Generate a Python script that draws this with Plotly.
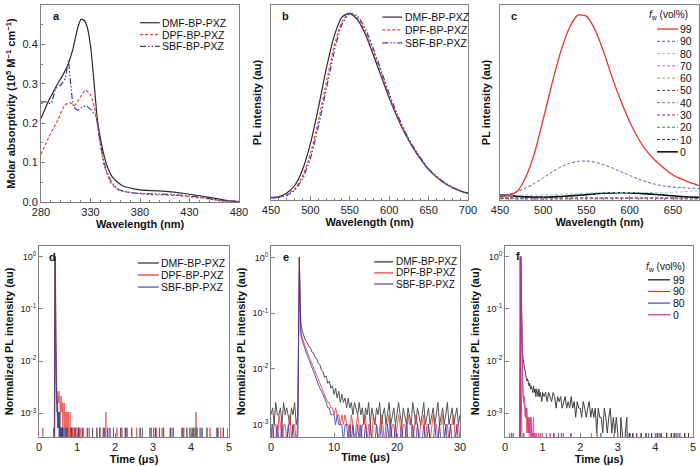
import numpy as np
import plotly.graph_objects as go

FONT = "Arial, Liberation Sans, sans-serif"

# ---------------- (a) absorption spectra ----------------
a_dmf_wl = [280, 288, 295, 302, 307, 312, 317, 320.5, 324, 327, 330.5, 334, 337, 341, 346, 352, 362, 380, 400, 427, 447, 467, 480]
a_dmf = [0.212, 0.258, 0.292, 0.322, 0.347, 0.386, 0.441, 0.464, 0.46, 0.441, 0.386, 0.292, 0.208, 0.148, 0.097, 0.064, 0.042, 0.031, 0.028, 0.021, 0.013, 0.004, 0.001]
a_dpf_wl = [280, 288, 297, 304, 309, 314, 320, 325, 330, 335, 339, 344, 351, 359, 373, 390, 413, 440, 460, 480]
a_dpf = [0.121, 0.165, 0.208, 0.246, 0.252, 0.246, 0.267, 0.284, 0.272, 0.228, 0.160, 0.092, 0.047, 0.030, 0.023, 0.019, 0.017, 0.011, 0.004, 0.001]
a_sbf_wl = [280, 285, 290, 295, 300, 304.5, 307.5, 310, 313, 317, 322, 326, 331, 336, 339, 344, 351, 359, 373, 390, 413, 440, 460, 480]
a_sbf = [0.254, 0.254, 0.25, 0.288, 0.297, 0.314, 0.358, 0.30, 0.242, 0.233, 0.242, 0.243, 0.233, 0.212, 0.165, 0.097, 0.051, 0.031, 0.023, 0.021, 0.019, 0.013, 0.004, 0.001]

# ---------------- (b) PL spectra ----------------
b_wl = list(range(450, 701, 10))
b_dmf = [0.011, 0.016, 0.035, 0.075, 0.16, 0.30, 0.49, 0.70, 0.875, 0.98, 1.0, 0.965, 0.885, 0.775, 0.66, 0.545, 0.445, 0.355, 0.28, 0.215, 0.16, 0.12, 0.088, 0.064, 0.046, 0.032]
b_dpf = [0.009, 0.012, 0.026, 0.057, 0.125, 0.245, 0.42, 0.625, 0.82, 0.955, 1.0, 0.975, 0.90, 0.795, 0.675, 0.555, 0.45, 0.36, 0.282, 0.218, 0.163, 0.122, 0.09, 0.065, 0.047, 0.033]
b_sbf = [0.008, 0.011, 0.022, 0.05, 0.11, 0.22, 0.39, 0.59, 0.79, 0.94, 1.0, 0.985, 0.915, 0.81, 0.69, 0.57, 0.46, 0.367, 0.287, 0.222, 0.166, 0.124, 0.091, 0.066, 0.048, 0.034]

# ---------------- (c) PL vs water fraction ----------------
c_wl = list(range(450, 681, 10))
c_99 = [0.013, 0.018, 0.042, 0.12, 0.25, 0.43, 0.62, 0.79, 0.92, 0.99, 0.985, 0.91, 0.79, 0.65, 0.525, 0.415, 0.325, 0.255, 0.205, 0.165, 0.13, 0.107, 0.088, 0.072]
c_90 = [0.02, 0.027, 0.04, 0.06, 0.085, 0.115, 0.145, 0.172, 0.192, 0.203, 0.205, 0.198, 0.185, 0.167, 0.147, 0.127, 0.108, 0.092, 0.079, 0.07, 0.064, 0.061, 0.059, 0.058]
c_80 = [0.02, 0.02, 0.02, 0.021, 0.022, 0.022, 0.024, 0.026, 0.028, 0.03, 0.032, 0.033, 0.034, 0.035, 0.035, 0.036, 0.036, 0.036, 0.036, 0.036, 0.037, 0.039, 0.042, 0.045]
c_0 = [0.022, 0.02, 0.015, 0.012, 0.011, 0.011, 0.012, 0.014, 0.017, 0.02, 0.024, 0.028, 0.031, 0.033, 0.034, 0.033, 0.031, 0.028, 0.025, 0.021, 0.017, 0.014, 0.011, 0.009]
c_wl_low = [450, 500, 550, 600, 650, 680]
c_70 = [0.005, 0.004, 0.005, 0.006, 0.005, 0.004]
c_60 = [0.008, 0.006, 0.007, 0.008, 0.007, 0.006]
c_50 = [0.004, 0.003, 0.004, 0.005, 0.004, 0.003]
c_40 = [0.003, 0.002, 0.003, 0.004, 0.003, 0.002]
c_30 = [0.006, 0.005, 0.006, 0.007, 0.006, 0.005]
c_20 = [0.007, 0.005, 0.006, 0.007, 0.006, 0.005]
c_10 = [0.002, 0.001, 0.002, 0.003, 0.002, 0.001]

# ---------------- (d) transient PL, toluene (counts, 0.01 us bins) ----------------
d_peak = 1900
d_dmf_start, d_dpf_start, d_sbf_start = 0.40, 0.40, 0.40
d_dmf = [0, 45, 1900, 260, 18, 5, 3, 4, 2, 3, 1, 2, 2, 1, 0, 2, 1, 0, 1, 1, 0, 1, 0]
d_dpf = [0, 20, 700, 1900, 250, 12, 6, 5, 4, 5, 3, 4, 3, 5, 3, 4, 2, 3, 2, 4, 2, 3, 1, 3, 2, 2, 1, 3, 1, 2,
         2, 0, 1, 2, 1, 2, 0, 2, 1, 1, 0, 1, 2, 0, 1, 0, 1, 1, 0, 1, 0, 0, 1, 0, 1, 0, 0, 1, 0, 0, 1, 0]
d_sbf = [0, 0, 80, 1900, 70, 6, 3, 2, 2, 1, 2, 1, 1, 2, 1, 0, 1, 1, 0, 1, 0, 1, 0, 0, 1, 0]
d_dmf_events = [0.39, 0.68, 0.75, 0.83, 0.95, 1.05, 1.15, 1.27, 1.41, 1.52, 1.60, 1.72, 1.81, 1.96, 2.15, 2.29, 2.44,
                2.66, 2.95, 3.07, 3.17, 3.28, 3.53, 3.77, 3.89, 3.97, 4.03, 4.07, 4.11, 4.16, 4.29, 4.42, 4.71, 4.85]
d_dpf_events = [0.10, 1.05, 1.10, 1.16, 1.32, 1.60, 1.96, 2.05, 2.18, 2.33, 2.57, 2.91, 3.09, 3.24, 3.45, 3.76, 4.50, 4.78, 4.96]
d_dpf_double = [1.76, 4.13]
d_sbf_events = [0.72, 0.86, 1.04, 1.69, 1.87, 2.27, 2.72, 3.02, 3.47, 3.81, 4.24, 4.68]

# ---------------- (e) transient PL, film (counts, 0.25 us bins) ----------------
e_peak = 2000
e_dmf_pre = [3, 4, 2, 5, 3, 3, 4, 2, 5, 3, 4, 3, 2, 4, 3, 5, 2, 3]
e_dpf_pre = [2, 1, 2, 2, 1, 3, 2, 1, 2, 2, 1, 2, 3, 1, 2, 2, 1, 2]
e_sbf_pre = [1, 2, 1, 1, 2, 1, 1, 2, 1, 1, 1, 2, 1, 1, 2, 1, 1, 1]
e_dmf_top = [2000, 340]
e_dpf_top = [2000, 250]
e_sbf_top = [2000, 220]
e_dmf_post = [120, 92, 78, 64, 60, 50, 48, 40, 39, 32, 31, 25, 24, 19, 18, 14, 15, 11, 12, 9,
              10, 7, 9, 6, 8, 5, 7, 5, 6, 4, 6, 4, 5, 3, 5, 4, 3, 5, 3, 4, 2, 4, 3, 5, 2, 4, 3, 2, 4, 3,
              5, 2, 3, 4, 2, 3, 5, 2, 3, 4, 2, 3, 5, 3, 2, 4, 3, 2, 4, 3, 2, 5, 3, 2, 4, 3, 2, 3, 5, 2,
              3, 4, 2, 3, 4, 2, 3, 5, 2, 3, 4, 2, 3, 5, 2, 3, 4, 2, 3, 4, 2, 3]
e_dpf_post = [90, 70, 56, 48, 40, 34, 29, 25, 21, 18, 15, 13, 11, 9, 8, 7, 6, 5, 5, 4,
              4, 3, 4, 3, 3, 2, 3, 2, 3, 2, 2, 1, 3, 2, 1, 2, 3, 2, 1, 2, 2, 3, 1, 2, 2, 1, 3, 2, 2, 1,
              2, 3, 2, 1, 2, 2, 3, 1, 2, 2, 1, 2, 3, 2, 1, 2, 2, 1, 3, 2, 2, 1, 2, 3, 2, 1, 2, 2, 3, 1,
              2, 2, 1, 2, 3, 2, 2, 1, 2, 2, 3, 1, 2, 2, 1, 2, 2, 3, 1, 2, 2, 1]
e_sbf_post = [80, 62, 50, 42, 35, 30, 25, 21, 18, 15, 13, 11, 9, 8, 7, 6, 5, 4, 4, 3,
              3, 3, 2, 3, 2, 2, 2, 1, 2, 2, 1, 2, 1, 2, 1, 1, 2, 1, 2, 1, 1, 2, 1, 1, 2, 1, 1, 1, 2, 1,
              1, 2, 1, 1, 1, 2, 1, 2, 1, 1, 2, 1, 1, 1, 2, 1, 1, 2, 1, 1, 1, 2, 1, 1, 2, 1, 1, 1, 2, 1,
              1, 2, 1, 1, 1, 2, 1, 1, 2, 1, 1, 1, 2, 1, 1, 2, 1, 1, 1, 2, 1, 1]

# ---------------- (f) transient PL vs water fraction (counts) ----------------
f_peak = 2400
f_99_head = [0, 2400, 150, 40, 26, 21, 16, 14, 12, 10, 11, 9, 8, 9, 7, 8, 7, 6, 8, 6, 7, 5, 7, 6, 5, 7, 5, 6, 5, 4, 6]
f_99_tail = [5, 6, 4, 6, 5, 4, 6, 5, 3, 5, 4, 5, 3, 4, 5, 3, 4, 3, 5, 3, 4, 2, 4, 3, 3, 2, 4, 3, 2, 3,
             4, 2, 3, 2, 3, 1, 3, 2, 2, 1, 3, 2, 1, 2, 3, 1, 2, 1, 2, 1, 0, 2, 1, 0, 1, 2, 0, 1, 0, 1]
f_90_head = [0, 2400, 60, 10, 5, 4, 3, 2, 3, 1, 2, 1, 2, 0, 1, 2, 0, 1, 0, 1, 0]
f_80_head = [0, 2400, 20, 2, 1, 0, 1, 0]
f_0_head = [0, 2400, 200, 20, 6, 4, 5, 3, 2, 3, 2, 1, 2, 1, 2, 1, 0, 1, 2, 0, 1, 0, 1, 0, 0, 1, 0]
f_99_events = [3.50, 3.62, 3.75, 3.90, 4.05, 4.15, 4.30, 4.42, 4.50, 4.78, 4.88]
f_90_events = [0.95, 1.30, 1.75, 2.45]
f_80_events = [0.17, 0.22, 1.42, 1.50, 2.55, 3.30, 3.82, 4.00, 4.55, 4.65]
f_0_events = [0.12, 1.10, 1.20, 1.30, 1.55, 1.75, 2.30, 2.90, 3.50, 4.10, 4.60]

BLACK, RED, BLUE = "#2b2b2b", "#e8413a", "#3c3ca8"
DASH = "3px,2px"
DASHDOT = "6px,2px,1.5px,2px,1.5px,2px"


def decay(segments, n, events=(), doubles=(), t_end=None, hw=0.004):
    t, c = [], []
    if t_end is not None:
        t.append(0.0)
        c.append(0)
    for t0, dt, vals in segments:
        t += [t0 + dt * i for i in range(len(vals))]
        c += list(vals)
    for level, evs in ((1, events), (2, doubles)):
        for ev in evs:
            t += [ev - hw, ev, ev + hw]
            c += [0, level, 0]
    if t_end is not None:
        t.append(t_end)
        c.append(0)
    order = np.argsort(t, kind="stable")
    t = np.asarray(t)[order]
    c = np.asarray(c, dtype=float)[order]
    return t, np.maximum(c, 0.05) / n


fig = go.Figure()


def line(x, y, ax, color, dash="solid", width=1.2, opacity=1.0, spline=False):
    fig.add_trace(go.Scatter(
        x=x, y=y, mode="lines", xaxis="x" + ax, yaxis="y" + ax, opacity=opacity,
        line=dict(color=color, dash=dash, width=width, shape="spline" if spline else "linear",
                  smoothing=0.6),
        showlegend=False, hoverinfo="skip"))


# a
line(a_dmf_wl, a_dmf, "", BLACK, spline=True)
line(a_dpf_wl, a_dpf, "", RED, DASH, spline=True)
line(a_sbf_wl, a_sbf, "", BLUE, DASHDOT, spline=True)
# b
line(b_wl, b_dmf, "2", BLACK, spline=True)
line(b_wl, b_dpf, "2", RED, DASH, spline=True)
line(b_wl, b_sbf, "2", BLUE, DASHDOT, spline=True)

# c
c_low_series = [
    ("10", c_10, "#2d2da0"), ("20", c_20, "#3a8f3a"), ("30", c_30, "#8e3838"),
    ("40", c_40, "#8a6ab8"), ("50", c_50, "#47478c"), ("60", c_60, "#a3a33c"),
    ("70", c_70, "#c866c8"),
]
for _, vals, col in c_low_series:
    line(c_wl_low, vals, "3", col, DASH, 1.0, spline=True)
line(c_wl, c_0, "3", "#111111", "solid", 1.6, spline=True)
line(c_wl, c_80, "3", "#86d2d2", DASH, 1.0, spline=True)
line(c_wl, c_90, "3", "#5b5ba6", DASH, 1.0, spline=True)
line(c_wl, c_99, "3", "#e8312a", "solid", 1.3, spline=True)

# d
for start, vals, ev, dbl, col in [
    (d_dmf_start, d_dmf, d_dmf_events, [], BLACK),
    (d_dpf_start, d_dpf, d_dpf_events, d_dpf_double, "#e8302a"),
    (d_sbf_start, d_sbf, d_sbf_events, [], "#3535a5"),
]:
    t, y = decay([(start, 0.01, vals)], d_peak, ev, dbl, t_end=5.0)
    line(t, y, "4", col, width=1.0, opacity=0.75)

# e
for pre, top, post, col in [
    (e_dmf_pre, e_dmf_top, e_dmf_post, BLACK),
    (e_dpf_pre, e_dpf_top, e_dpf_post, "#e8302a"),
    (e_sbf_pre, e_sbf_top, e_sbf_post, "#3535b0"),
]:
    t, y = decay([(0.0, 0.25, pre), (4.5, 0.1, top), (4.75, 0.25, post)], e_peak)
    line(t, y, "5", col, width=1.0, opacity=0.8)

# f
for segs, ev, col in [
    ([(0.40, 0.02, f_99_head), (1.04, 0.04, f_99_tail)], f_99_events, "#111111"),
    ([(0.40, 0.02, f_90_head)], f_90_events, "#e8302a"),
    ([(0.38, 0.02, f_80_head)], f_80_events, "#4646a8"),
    ([(0.40, 0.02, f_0_head)], f_0_events, "#cc2f9c"),
]:
    t, y = decay(segs, f_peak, ev, t_end=5.0)
    line(t, y, "6", col, width=1.0, opacity=0.8)

# ---------------- axes ----------------
AX = dict(showline=True, linecolor="#808080", linewidth=1, mirror=True, ticks="inside",
          ticklen=4, tickcolor="#808080", showgrid=False, zeroline=False, automargin=False,
          tickfont=dict(family=FONT, size=11, color="#222"),
          title_font=dict(family=FONT, size=11, color="#111"))


def ax(**kw):
    d = dict(AX)
    d.update(kw)
    return d


wl_title = "<b>Wavelength (nm)</b>"
t_title = "<b>Time (μs)</b>"
npl_title = "<b>Normalized PL intensity (au)</b>"
pl_title = "<b>PL intensity (au)</b>"
log_vals = [1, 0.1, 0.01, 0.001]
log_text = ["10<sup>0</sup>", "10<sup>-1</sup>", "10<sup>-2</sup>", "10<sup>-3</sup>"]
log_font = dict(family=FONT, size=9, color="#222")

top_y = [1 - 200 / 466, 1 - 5 / 466]
bot_y = [1 - 437 / 466, 1 - 246 / 466]

fig.update_layout(
    width=700, height=466, margin=dict(l=0, r=0, t=0, b=0, autoexpand=False),
    paper_bgcolor="white", plot_bgcolor="white",
    font=dict(family=FONT, size=11, color="#222"),
    xaxis=ax(domain=[41 / 700, 239 / 700], range=[280, 480], tickvals=[280, 330, 380, 430, 480],
             minor=dict(dtick=10, ticks="inside", ticklen=2, tickcolor="#808080"),
             title=dict(text=wl_title, standoff=2), anchor="y"),
    yaxis=ax(domain=[1 - 202 / 466, 1 - 5 / 466], range=[0, 0.5], dtick=0.1, tickformat=".1f",
             minor=dict(dtick=0.05, ticks="inside", ticklen=2, tickcolor="#808080"),
             title=dict(text="<b>Molar absorptivity (10<sup>5</sup> M<sup>−1</sup> cm<sup>−1</sup>)</b>",
                        standoff=4), anchor="x"),
    xaxis2=ax(domain=[271 / 700, 468 / 700], range=[450, 700], dtick=50,
              minor=dict(dtick=10, ticks="inside", ticklen=2, tickcolor="#808080"),
              title=dict(text=wl_title, standoff=2), anchor="y2"),
    yaxis2=ax(domain=top_y, range=[-0.003, 1.045], showticklabels=False, ticks="",
              title=dict(text=pl_title, standoff=6), anchor="x2"),
    xaxis3=ax(domain=[500 / 700, 699 / 700], range=[450, 680], tickvals=[450, 500, 550, 600, 650],
              minor=dict(dtick=10, ticks="inside", ticklen=2, tickcolor="#808080"),
              title=dict(text=wl_title, standoff=2), anchor="y3"),
    yaxis3=ax(domain=top_y, range=[-0.005, 1.045], showticklabels=False, ticks="",
              title=dict(text=pl_title, standoff=6), anchor="x3"),
    xaxis4=ax(domain=[39 / 700, 229 / 700], range=[0, 5], dtick=1,
              title=dict(text=t_title, standoff=1), anchor="y4"),
    yaxis4=ax(domain=bot_y, type="log", range=[np.log10(3.5e-4), np.log10(1.6)],
              tickvals=log_vals, ticktext=log_text, tickfont=log_font,
              title=dict(text=npl_title, standoff=4), anchor="x4"),
    xaxis5=ax(domain=[271 / 700, 460 / 700], range=[0, 30], dtick=10,
              title=dict(text=t_title, standoff=1), anchor="y5"),
    yaxis5=ax(domain=bot_y, type="log", range=[np.log10(6.0e-4), np.log10(1.6)],
              tickvals=log_vals, ticktext=log_text, tickfont=log_font,
              title=dict(text=npl_title, standoff=4), anchor="x5"),
    xaxis6=ax(domain=[505 / 700, 693 / 700], range=[0, 5], dtick=1,
              title=dict(text=t_title, standoff=1), anchor="y6"),
    yaxis6=ax(domain=bot_y, type="log", range=[np.log10(3.5e-4), np.log10(1.6)],
              tickvals=log_vals, ticktext=log_text, tickfont=log_font,
              title=dict(text=npl_title, standoff=4), anchor="x6"),
)


# ---------------- panel letters and legends ----------------
def note(axn, x, y, text, size=11, anchor="left"):
    fig.add_annotation(xref=f"x{axn} domain", yref=f"y{axn} domain", x=x, y=y, text=text,
                       showarrow=False, xanchor=anchor, yanchor="middle", borderpad=0,
                       font=dict(family=FONT, size=size, color="#111"))


def legend(axn, items, x0, x1, y0, dy, size=11):
    for i, (label, col, dash, w) in enumerate(items):
        y = y0 - i * dy
        fig.add_shape(type="line", xref=f"x{axn} domain", yref=f"y{axn} domain",
                      x0=x0, x1=x1, y0=y, y1=y, line=dict(color=col, dash=dash, width=w))
        note(axn, x1 + 0.008, y, label, size)


names = ["DMF-BP-PXZ", "DPF-BP-PXZ", "SBF-BP-PXZ"]
spec_items = [(names[0], BLACK, "solid", 1.2), (names[1], RED, DASH, 1.2), (names[2], BLUE, DASHDOT, 1.2)]
decay_items = [(names[0], BLACK, "solid", 1.2), (names[1], "#e8302a", "solid", 1.2), (names[2], "#4646b0", "solid", 1.2)]

for axn, letter, lx, ly in [("", "a", 0.056, 0.944), ("2", "b", 0.052, 0.944), ("3", "c", 0.05, 0.944),
                            ("4", "d", 0.047, 0.943), ("5", "e", 0.06, 0.943), ("6", "f", 0.053, 0.948)]:
    note(axn, lx, ly, f"<b>{letter}</b>", 11)

legend("", spec_items, 0.50, 0.60, 0.91, 0.06, 10.5)
legend("2", spec_items, 0.565, 0.666, 0.938, 0.066, 10.5)
legend("4", decay_items, 0.52, 0.63, 0.911, 0.063, 10.5)
legend("5", decay_items, 0.546, 0.646, 0.917, 0.058, 10)

c_items = [("99", "#e8312a", "solid", 1.3), ("90", "#5b5ba6", DASH, 1.0), ("80", "#86d2d2", DASH, 1.0),
           ("70", "#c866c8", DASH, 1.0), ("60", "#a3a33c", DASH, 1.0), ("50", "#47478c", DASH, 1.0),
           ("40", "#8a6ab8", DASH, 1.0), ("30", "#8e3838", DASH, 1.0), ("20", "#3a8f3a", DASH, 1.0),
           ("10", "#2d2da0", DASH, 1.0), ("0", "#111111", "solid", 1.6)]
note("3", 0.744, 0.949, "<i>f</i><sub>w</sub> (vol%)", 10)
legend("3", c_items, 0.789, 0.894, 0.877, 0.063, 10.5)

f_items = [("99", "#111111", "solid", 1.2), ("90", "#e8302a", "solid", 1.2),
           ("80", "#4646a8", "solid", 1.2), ("0", "#cc2f9c", "solid", 1.2)]
note("6", 0.745, 0.89, "<i>f</i><sub>w</sub> (vol%)", 10)
legend("6", f_items, 0.76, 0.878, 0.823, 0.061, 10.5)

# the page body has a default 8px margin; drop it so the figure fills the window
fig.write_html("out.html", config={"displayModeBar": False},
               post_script="document.body.style.margin='0';")
